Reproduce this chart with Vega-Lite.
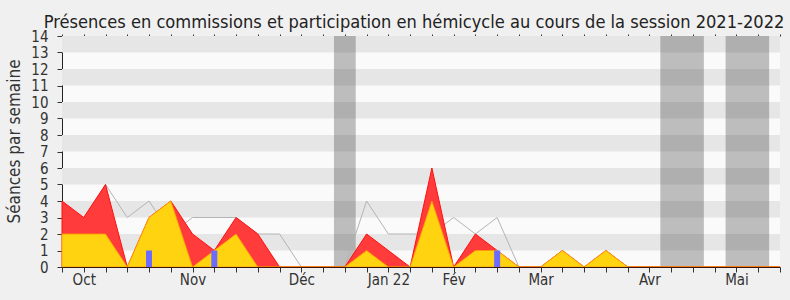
{
  "$schema": "https://vega.github.io/schema/vega-lite/v6.json",
  "width": 718,
  "height": 231,
  "autosize": {"type": "none"},
  "padding": {"left": 62, "top": 36, "right": 10, "bottom": 33},
  "background": "#F0F0F0",
  "title": {
    "text": "Présences en commissions et participation en hémicycle au cours de la session 2021-2022",
    "font": "DejaVu Sans Condensed, DejaVu Sans, sans-serif",
    "fontSize": 18.1,
    "fontWeight": "normal",
    "color": "#222222",
    "anchor": "middle",
    "offset": -3,
    "dx": -7
  },
  "config": {
    "view": {"fill": "#FAFAFA", "stroke": null},
    "axis": {
      "labelFont": "DejaVu Sans Condensed, DejaVu Sans, sans-serif",
      "titleFont": "DejaVu Sans Condensed, DejaVu Sans, sans-serif",
      "labelColor": "#333333",
      "titleColor": "#333333",
      "tickColor": "#333333",
      "domainColor": "#222222",
      "grid": false
    },
    "axisY": {
      "labelOverlap": false,
      "labelFontSize": 15,
      "labelPadding": 9,
      "tickSize": 5,
      "titleFontSize": 17,
      "titleFontWeight": "normal",
      "titleBaseline": "middle",
      "titleX": -48,
      "titleY": 105
    }
  },
  "datasets": {
    "weeks": [
      {"week": 0, "total": 4, "commission": 2, "median": 3, "questions": 0},
      {"week": 1, "total": 3, "commission": 2, "median": 3, "questions": 0},
      {"week": 2, "total": 5, "commission": 2, "median": 5, "questions": 0},
      {"week": 3, "total": 0, "commission": 0, "median": 3, "questions": 0},
      {"week": 4, "total": 3, "commission": 3, "median": 4, "questions": 1},
      {"week": 5, "total": 4, "commission": 4, "median": 2, "questions": 0},
      {"week": 6, "total": 2, "commission": 0, "median": 3, "questions": 0},
      {"week": 7, "total": 1, "commission": 1, "median": 3, "questions": 1},
      {"week": 8, "total": 3, "commission": 2, "median": 3, "questions": 0},
      {"week": 9, "total": 2, "commission": 0, "median": 2, "questions": 0},
      {"week": 10, "total": 0, "commission": 0, "median": 2, "questions": 0},
      {"week": 11, "total": 0, "commission": 0, "median": 0, "questions": 0},
      {"week": 12, "total": 0, "commission": 0, "median": 0, "questions": 0},
      {"week": 13, "total": 0, "commission": 0, "median": 0, "questions": 0},
      {"week": 14, "total": 2, "commission": 1, "median": 4, "questions": 0},
      {"week": 15, "total": 1, "commission": 0, "median": 2, "questions": 0},
      {"week": 16, "total": 0, "commission": 0, "median": 2, "questions": 0},
      {"week": 17, "total": 6, "commission": 4, "median": 2, "questions": 0},
      {"week": 18, "total": 0, "commission": 0, "median": 3, "questions": 0},
      {"week": 19, "total": 2, "commission": 1, "median": 2, "questions": 0},
      {"week": 20, "total": 1, "commission": 1, "median": 3, "questions": 1},
      {"week": 21, "total": 0, "commission": 0, "median": 0, "questions": 0},
      {"week": 22, "total": 0, "commission": 0, "median": 0, "questions": 0},
      {"week": 23, "total": 1, "commission": 1, "median": 0, "questions": 0},
      {"week": 24, "total": 0, "commission": 0, "median": 0, "questions": 0},
      {"week": 25, "total": 1, "commission": 1, "median": 0, "questions": 0},
      {"week": 26, "total": 0, "commission": 0, "median": 0, "questions": 0},
      {"week": 27, "total": 0, "commission": 0, "median": 0, "questions": 0},
      {"week": 28, "total": 0, "commission": 0, "median": 0, "questions": 0},
      {"week": 29, "total": 0, "commission": 0, "median": 0, "questions": 0},
      {"week": 30, "total": 0, "commission": 0, "median": 0, "questions": 0},
      {"week": 31, "total": 0, "commission": 0, "median": 0, "questions": 0},
      {"week": 32, "total": 0, "commission": 0, "median": 0, "questions": 0},
      {"week": 33, "total": 0, "commission": 0, "median": 0, "questions": 0}
    ],
    "stripes": [
      {"x0": 0, "x1": 33, "y0": 1, "y1": 2},
      {"x0": 0, "x1": 33, "y0": 3, "y1": 4},
      {"x0": 0, "x1": 33, "y0": 5, "y1": 6},
      {"x0": 0, "x1": 33, "y0": 7, "y1": 8},
      {"x0": 0, "x1": 33, "y0": 9, "y1": 10},
      {"x0": 0, "x1": 33, "y0": 11, "y1": 12},
      {"x0": 0, "x1": 33, "y0": 13, "y1": 14}
    ],
    "vacances": [
      {"start": 12.5, "end": 13.5, "y0": 0, "y1": 14},
      {"start": 27.5, "end": 29.5, "y0": 0, "y1": 14},
      {"start": 30.5, "end": 32.5, "y0": 0, "y1": 14}
    ]
  },
  "resolve": {"axis": {"x": "independent"}},
  "layer": [
    {
      "data": {"name": "stripes"},
      "mark": {"type": "rect", "fill": "#E6E6E6"},
      "encoding": {
        "x": {"field": "x0", "type": "quantitative", "scale": {"domain": [0, 33], "nice": false, "zero": false, "padding": 0},
          "axis": {"orient": "top", "values": [0,1,2,3,4,5,6,7,8,9,10,11,12,13,14,15,16,17,18,19,20,21,22,23,24,25,26,27,28,29,30,31,32,33], "labels": false, "domain": false, "tickSize": 2, "title": null}},
        "x2": {"field": "x1"},
        "y": {"field": "y0", "type": "quantitative", "scale": {"domain": [0, 14], "nice": false, "padding": 0},
          "axis": {"values": [0,1,2,3,4,5,6,7,8,9,10,11,12,13,14], "labelOverlap": false, "title": "Séances par semaine"}},
        "y2": {"field": "y1"}
      }
    },
    {
      "data": {"name": "vacances"},
      "mark": {"type": "rect", "fill": "#323232", "opacity": 0.3},
      "encoding": {
        "x": {"field": "start", "type": "quantitative", "axis": null},
        "x2": {"field": "end"},
        "y": {"field": "y0", "type": "quantitative", "axis": {"values": [0,1,2,3,4,5,6,7,8,9,10,11,12,13,14], "labelOverlap": false, "title": "Séances par semaine"}},
        "y2": {"field": "y1"}
      }
    },
    {
      "data": {"name": "weeks"},
      "mark": {"type": "line", "color": "#B4B4B4", "strokeWidth": 1},
      "encoding": {
        "x": {"field": "week", "type": "quantitative",
          "axis": {"orient": "bottom", "zindex": 1, "domainColor": "#3A1810", "values": [0,1,2,3,4,5,6,7,8,9,10,11,12,13,14,15,16,17,18,19,20,21,22,23,24,25,26,27,28,29,30,31,32,33],
            "labelExpr": "datum.value == 1 ? 'Oct' : datum.value == 6 ? 'Nov' : datum.value == 11 ? 'Déc' : datum.value == 15 ? 'Jan 22' : datum.value == 18 ? 'Fév' : datum.value == 22 ? 'Mar' : datum.value == 27 ? 'Avr' : datum.value == 31 ? 'Mai' : ''",
            "labelFontSize": 15, "tickSize": 5, "labelPadding": 0, "labelOverlap": false, "labelFlush": false, "title": null}},
        "y": {"field": "median", "type": "quantitative", "axis": {"values": [0,1,2,3,4,5,6,7,8,9,10,11,12,13,14], "labelOverlap": false, "title": "Séances par semaine"}}
      }
    },
    {
      "data": {"name": "weeks"},
      "mark": {"type": "area", "fill": "#FF3B3B", "stroke": "#FF1010", "strokeWidth": 1},
      "encoding": {
        "x": {"field": "week", "type": "quantitative", "axis": null},
        "y": {"field": "total", "type": "quantitative", "axis": {"values": [0,1,2,3,4,5,6,7,8,9,10,11,12,13,14], "labelOverlap": false, "title": "Séances par semaine"}}
      }
    },
    {
      "data": {"name": "weeks"},
      "mark": {"type": "area", "fill": "#FFD30F", "stroke": "#FFA000", "strokeWidth": 0.8},
      "encoding": {
        "x": {"field": "week", "type": "quantitative", "axis": null},
        "y": {"field": "commission", "type": "quantitative", "axis": {"values": [0,1,2,3,4,5,6,7,8,9,10,11,12,13,14], "labelOverlap": false, "title": "Séances par semaine"}}
      }
    },
    {
      "data": {"name": "weeks"},
      "transform": [{"filter": "datum.questions > 0"}],
      "mark": {"type": "bar", "color": "#6B6BFF", "size": 6},
      "encoding": {
        "x": {"field": "week", "type": "quantitative", "axis": null},
        "y": {"field": "questions", "type": "quantitative", "axis": {"values": [0,1,2,3,4,5,6,7,8,9,10,11,12,13,14], "labelOverlap": false, "title": "Séances par semaine"}}
      }
    }
  ]
}
